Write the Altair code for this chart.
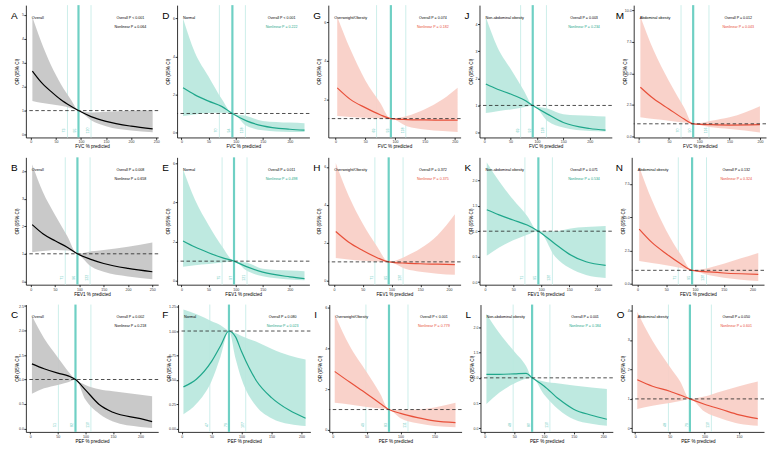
import altair as alt
import pandas as pd

# ---------------- spline estimates: x, OR, lower CI, upper CI ----------------
# Row 1: FVC % predicted
A_X = [3, 20, 40, 60, 80, 95, 120, 150, 200, 243]
A_OR = [2.65, 2.2, 1.8, 1.45, 1.18, 1.0, 0.75, 0.55, 0.35, 0.24]
A_LO = [1.40, 1.33, 1.27, 1.2, 1.1, 1.0, 0.6, 0.35, 0.17, 0.10]
A_HI = [4.9, 3.9, 2.9, 2.1, 1.45, 1.0, 0.92, 0.95, 0.99, 1.0]

D_X = [3, 25, 50, 75, 94, 120, 150, 200, 227]
D_OR = [2.35, 1.98, 1.65, 1.36, 1.0, 0.61, 0.35, 0.17, 0.12]
D_LO = [0.87, 0.95, 1.02, 1.04, 1.0, 0.35, 0.12, 0.03, 0.02]
D_HI = [6.0, 4.2, 2.95, 1.74, 1.0, 0.87, 0.61, 0.52, 0.49]

G_X = [3, 25, 50, 75, 93, 120, 150, 180, 205]
G_OR = [2.6, 2.0, 1.57, 1.2, 1.0, 0.95, 0.93, 0.92, 0.92]
G_LO = [1.13, 1.08, 1.04, 1.02, 1.0, 0.6, 0.43, 0.35, 0.3]
G_HI = [6.3, 4.6, 3.0, 1.83, 1.0, 1.13, 1.48, 2.0, 2.6]

J_X = [3, 25, 50, 75, 92, 120, 150, 200, 230]
J_OR = [1.79, 1.6, 1.42, 1.21, 1.0, 0.68, 0.37, 0.15, 0.09]
J_LO = [0.72, 0.79, 0.85, 0.93, 1.0, 0.43, 0.19, 0.06, 0.04]
J_HI = [4.26, 3.15, 2.35, 1.55, 1.0, 0.89, 0.68, 0.62, 0.59]

M_X = [3, 25, 50, 75, 90, 120, 150, 200]
M_OR = [3.9, 2.98, 2.18, 1.38, 1.0, 0.93, 0.9, 0.93]
M_LO = [1.52, 1.38, 1.25, 1.1, 1.0, 0.72, 0.59, 0.32]
M_HI = [9.5, 6.8, 4.4, 2.3, 1.0, 1.25, 1.52, 2.4]

# Row 2: FEV1 % predicted
B_X = [3, 25, 50, 75, 96, 125, 150, 200, 250]
B_OR = [2.06, 1.73, 1.47, 1.24, 1.0, 0.79, 0.65, 0.47, 0.35]
B_LO = [1.06, 1.1, 1.14, 1.12, 1.0, 0.53, 0.35, 0.18, 0.08]
B_HI = [4.24, 3.24, 2.41, 1.65, 1.0, 1.09, 1.14, 1.26, 1.41]

E_X = [3, 25, 50, 75, 97, 120, 150, 200, 227]
E_OR = [2.03, 1.72, 1.43, 1.18, 1.0, 0.72, 0.44, 0.2, 0.11]
E_LO = [0.72, 0.79, 0.85, 0.93, 1.0, 0.52, 0.23, 0.07, 0.03]
E_HI = [5.69, 4.13, 2.85, 1.75, 1.0, 0.93, 0.61, 0.52, 0.49]

H_X = [3, 25, 50, 75, 95, 125, 150, 180, 210]
H_OR = [2.6, 2.05, 1.6, 1.22, 1.0, 0.93, 0.9, 0.88, 0.86]
H_LO = [1.2, 1.12, 1.06, 1.02, 1.0, 0.62, 0.48, 0.38, 0.32]
H_HI = [6.2, 4.5, 3.0, 1.8, 1.0, 1.3, 1.7, 2.4, 3.5]

K_X = [3, 25, 50, 75, 95, 125, 150, 180, 215]
K_OR = [1.42, 1.32, 1.22, 1.12, 1.0, 0.75, 0.55, 0.4, 0.33]
K_LO = [0.52, 0.68, 0.82, 0.93, 1.0, 0.5, 0.28, 0.14, 0.08]
K_HI = [2.35, 1.98, 1.62, 1.3, 1.0, 1.0, 1.05, 1.08, 1.1]

N_X = [3, 25, 50, 75, 95, 125, 150, 180, 210]
N_OR = [4.1, 3.1, 2.25, 1.5, 1.0, 0.88, 0.8, 0.74, 0.7]
N_LO = [1.7, 1.55, 1.38, 1.18, 1.0, 0.62, 0.45, 0.3, 0.2]
N_HI = [8.8, 6.3, 4.0, 2.2, 1.0, 1.2, 1.5, 1.9, 2.3]

# Row 3: PEF % predicted
C_X = [3, 25, 50, 70, 82, 100, 125, 150, 200, 221]
C_OR = [1.32, 1.22, 1.13, 1.07, 1.0, 0.79, 0.49, 0.33, 0.2, 0.14]
C_LO = [0.71, 0.82, 0.89, 0.95, 1.0, 0.59, 0.30, 0.14, 0.03, 0.01]
C_HI = [2.3, 1.84, 1.45, 1.15, 1.0, 0.89, 0.80, 0.76, 0.69, 0.66]

F_X = [3, 25, 50, 65, 79, 90, 100, 125, 150, 180, 207]
F_OR = [0.43, 0.51, 0.69, 0.85, 1.0, 0.94, 0.79, 0.49, 0.32, 0.19, 0.11]
F_LO = [0.15, 0.26, 0.49, 0.74, 1.0, 0.72, 0.51, 0.23, 0.11, 0.05, 0.03]
F_HI = [1.22, 1.17, 1.10, 1.06, 1.0, 0.98, 0.95, 0.89, 0.82, 0.75, 0.71]

I_X = [3, 25, 50, 70, 83, 100, 125, 150, 181]
I_OR = [2.87, 2.35, 1.78, 1.30, 1.0, 0.81, 0.6, 0.44, 0.36]
I_LO = [1.33, 1.25, 1.13, 1.05, 1.0, 0.57, 0.32, 0.19, 0.13]
I_HI = [5.67, 4.13, 2.84, 1.78, 1.0, 0.98, 1.0, 1.1, 1.33]

L_X = [3, 25, 50, 70, 80, 100, 125, 150, 180, 206]
L_OR = [1.07, 1.07, 1.08, 1.09, 1.0, 0.84, 0.58, 0.38, 0.26, 0.18]
L_LO = [0.48, 0.71, 0.89, 0.98, 1.0, 0.67, 0.37, 0.18, 0.09, 0.05]
L_HI = [2.27, 1.88, 1.52, 1.23, 1.0, 0.93, 0.89, 0.85, 0.81, 0.78]

O_X = [3, 25, 50, 65, 79, 100, 125, 150, 177]
O_OR = [1.65, 1.43, 1.26, 1.13, 1.0, 0.82, 0.64, 0.46, 0.33]
O_LO = [0.66, 0.77, 0.86, 0.93, 1.0, 0.57, 0.33, 0.16, 0.09]
O_HI = [3.96, 2.97, 2.09, 1.59, 1.0, 1.08, 1.26, 1.43, 1.59]

# percentile lines (P10, reference median, P90) for each panel
KNOTS = {
    "A": [73, 95, 120], "D": [70, 94, 118], "G": [69, 93, 118], "J": [69, 92, 118], "M": [70, 90, 116],
    "B": [71, 96, 122], "E": [75, 97, 121], "H": [71, 95, 120], "K": [71, 95, 120], "N": [71, 95, 120],
    "C": [51, 82, 110], "F": [47, 79, 107], "I": [49, 83, 111], "L": [48, 80, 110], "O": [48, 79, 110],
}

P_OVERALL = {
    "A": "Overall P < 0.001", "D": "Overall P < 0.001", "G": "Overall P = 0.074",
    "J": "Overall P = 0.003", "M": "Overall P = 0.012",
    "B": "Overall P = 0.008", "E": "Overall P = 0.011", "H": "Overall P = 0.372",
    "K": "Overall P = 0.071", "N": "Overall P = 0.132",
    "C": "Overall P = 0.002", "F": "Overall P = 0.080", "I": "Overall P < 0.001",
    "L": "Overall P = 0.001", "O": "Overall P = 0.050",
}
P_NONLIN = {
    "A": "Nonlinear P = 0.064", "D": "Nonlinear P = 0.222", "G": "Nonlinear P = 0.182",
    "J": "Nonlinear P = 0.234", "M": "Nonlinear P = 0.043",
    "B": "Nonlinear P = 0.658", "E": "Nonlinear P = 0.498", "H": "Nonlinear P = 0.375",
    "K": "Nonlinear P = 0.534", "N": "Nonlinear P = 0.324",
    "C": "Nonlinear P = 0.218", "F": "Nonlinear P = 0.023", "I": "Nonlinear P = 0.779",
    "L": "Nonlinear P = 0.184", "O": "Nonlinear P = 0.601",
}

GROUPS = ["Overall", "Normal", "Overweight/Obesity", "Non-abdominal obesity", "Abdominal obesity"]
XTITLES = ["FVC % predicted", "FEV1 % predicted", "PEF % predicted"]

SCHEMES = {
    "Overall": dict(band="#C4C4C4", line="#000000", text="#000000"),
    "Normal": dict(band="#B8E7DD", line="#1FA78B", text="#1FA78B"),
    "Overweight/Obesity": dict(band="#F9CEC6", line="#E8503A", text="#E8503A"),
    "Non-abdominal obesity": dict(band="#B8E7DD", line="#1FA78B", text="#1FA78B"),
    "Abdominal obesity": dict(band="#F9CEC6", line="#E8503A", text="#E8503A"),
}

TEAL_THICK = "#6FD0C4"
TEAL_THIN = "#CDEEEA"
FONT = "Liberation Sans"
PW = 133
ROW_H = [133, 128, 128]


def panel(letter, group, xs, ors, los, his, xdom, xticks, ydom, yticks, yfmt, row, tag_x=-15):
    ph = ROW_H[row]
    sch = SCHEMES[group]
    df = pd.DataFrame({"x": xs, "or": ors, "lo": los, "hi": his})
    xsc = alt.Scale(domain=xdom, nice=False, zero=False)
    ysc = alt.Scale(domain=ydom, nice=False, zero=False)
    xax = alt.Axis(values=xticks, title=XTITLES[row], format="d")
    yax = alt.Axis(values=yticks, title="OR (95% CI)", format=yfmt)

    knots = KNOTS[letter]
    kdf = pd.DataFrame({"x": knots, "lab": [str(k) for k in knots]})

    thin = alt.Chart(kdf.iloc[[0, 2]]).mark_rule(color=TEAL_THIN, strokeWidth=1).encode(
        x=alt.X("x:Q", scale=xsc, axis=xax))
    thick = alt.Chart(kdf.iloc[[1]]).mark_rule(color=TEAL_THICK, strokeWidth=2.2).encode(
        x=alt.X("x:Q", scale=xsc, axis=xax))
    band = alt.Chart(df).mark_area(color=sch["band"], opacity=0.92, interpolate="monotone").encode(
        x=alt.X("x:Q", scale=xsc, axis=xax),
        y=alt.Y("lo:Q", scale=ysc, axis=yax), y2="hi:Q")
    curve = alt.Chart(df).mark_line(color=sch["line"], strokeWidth=1.2, interpolate="monotone").encode(
        x=alt.X("x:Q", scale=xsc, axis=xax), y=alt.Y("or:Q", scale=ysc, axis=yax))
    ref = alt.Chart(pd.DataFrame({"y": [1.0]})).mark_rule(
        color="#222222", strokeDash=[3.5, 2.5], strokeWidth=0.8).encode(y=alt.Y("y:Q", scale=ysc, axis=yax))
    klab = alt.Chart(kdf).mark_text(fontSize=3.6, color="#5CC6BA", angle=270, font=FONT, dy=-3).encode(
        x=alt.X("x:Q", scale=xsc, axis=xax), y=alt.value(ph - 7), text="lab:N")

    def txt(s, x, y, color="#000000", align="left", size=3.6):
        return alt.Chart(pd.DataFrame({"t": [s]})).mark_text(
            fontSize=size, color=color, align=align, baseline="middle", font=FONT
        ).encode(x=alt.value(x), y=alt.value(y), text="t:N")

    layers = [
        thin, thick, band, curve, ref, klab,
        txt(letter, tag_x, 11, size=10),
        txt(group, 6, 13, size=3.8),
        txt(P_OVERALL[letter], PW * 0.79, 13, align="center"),
        txt(P_NONLIN[letter], PW * 0.79, 22, color=sch["text"], align="center"),
    ]
    return alt.layer(*layers).properties(width=PW, height=ph)


T4 = [0, 50, 100, 150, 200]
T5 = [0, 50, 100, 150, 200, 250]
T3 = [0, 50, 100, 150]
rows = [
    [
        panel("A", GROUPS[0], A_X, A_OR, A_LO, A_HI, [-10, 254], T5, [-0.12, 5.4], [0, 1, 2, 3, 4, 5], "d", 0),
        panel("D", GROUPS[1], D_X, D_OR, D_LO, D_HI, [-8, 236], T4, [-0.26, 6.7], [0, 2, 4, 6], "d", 0),
        panel("G", GROUPS[2], G_X, G_OR, G_LO, G_HI, [-12, 210], T4, [0.02, 6.9], [2, 4, 6], "d", 0),
        panel("J", GROUPS[3], J_X, J_OR, J_LO, J_HI, [-9, 242], T4, [-0.18, 4.7], [0, 1, 2, 3, 4], "d", 0),
        panel("M", GROUPS[4], M_X, M_OR, M_LO, M_HI, [-8, 210], T4, [-0.08, 10.4], [0, 2.5, 5, 7.5, 10], ".1f", 0, tag_x=-18),
    ],
    [
        panel("B", GROUPS[0], B_X, B_OR, B_LO, B_HI, [-10, 262], T5, [-0.12, 4.5], [0, 1, 2, 3, 4], "d", 1),
        panel("E", GROUPS[1], E_X, E_OR, E_LO, E_HI, [-8, 236], T4, [-0.2, 6.3], [0, 2, 4, 6], "d", 1),
        panel("H", GROUPS[2], H_X, H_OR, H_LO, H_HI, [-10, 220], T4, [-0.2, 6.5], [0, 2, 4, 6], "d", 1),
        panel("K", GROUPS[3], K_X, K_OR, K_LO, K_HI, [-10, 226], T4, [-0.05, 2.45], [0, 0.5, 1, 1.5, 2], ".1f", 1),
        panel("N", GROUPS[4], N_X, N_OR, N_LO, N_HI, [-10, 220], T4, [-0.08, 9.5], [0, 2.5, 5, 7.5], ".1f", 1, tag_x=-16),
    ],
    [
        panel("C", GROUPS[0], C_X, C_OR, C_LO, C_HI, [-8, 232], T4, [-0.07, 2.53], [0, 0.5, 1, 1.5, 2, 2.5], ".1f", 2),
        panel("F", GROUPS[1], F_X, F_OR, F_LO, F_HI, [-6, 215], T4, [-0.03, 1.27], [0, 0.25, 0.5, 0.75, 1, 1.25], ".2f", 2, tag_x=-16),
        panel("I", GROUPS[2], I_X, I_OR, I_LO, I_HI, [-5, 190], T3, [-0.1, 6.16], [0, 2, 4, 6], "d", 2),
        panel("L", GROUPS[3], L_X, L_OR, L_LO, L_HI, [-7, 216], T4, [-0.07, 2.45], [0, 0.5, 1, 1.5, 2], ".1f", 2),
        panel("O", GROUPS[4], O_X, O_OR, O_LO, O_HI, [-5, 186], T3, [-0.12, 4.2], [0, 1, 2, 3, 4], "d", 2),
    ],
]

chart = alt.vconcat(
    *[alt.hconcat(*r, spacing=3) for r in rows], spacing=6
).properties(
    padding={"left": 11, "top": 2, "right": 0, "bottom": 0}
).configure_view(stroke=None).configure_axis(
    grid=False,
    domainColor="#000000",
    domainWidth=0.8,
    tickColor="#000000",
    tickSize=2,
    tickWidth=0.8,
    labelFontSize=3.6,
    labelColor="#333333",
    labelPadding=0.5,
    labelFont=FONT,
    titleFont=FONT,
    titleFontSize=4.6,
    titleFontWeight="normal",
    titleColor="#000000",
    titlePadding=0.5,
).configure_axisY(minExtent=6, maxExtent=6).configure_axisX(labelOverlap=False)

chart.save("out.html", embed_options={"renderer": "svg", "actions": False})
